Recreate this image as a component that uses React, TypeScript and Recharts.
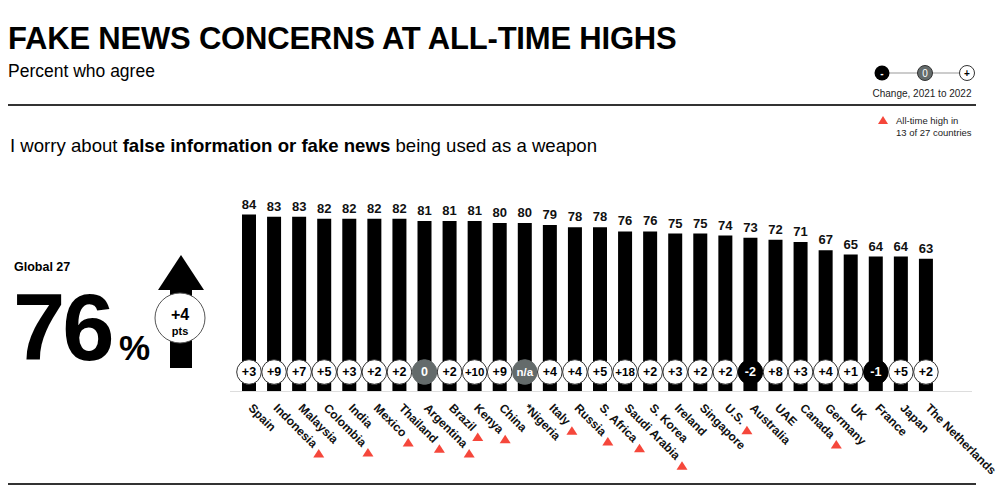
import React from 'react';
import { BarChart, Bar, XAxis, YAxis, LabelList } from 'recharts';

const FONT = '"Liberation Sans", Arial, Helvetica, sans-serif';

const countries = ['Spain', 'Indonesia', 'Malaysia', 'Colombia', 'India', 'Mexico', 'Thailand', 'Argentina', 'Brazil', 'Kenya', 'China', '*Nigeria', 'Italy', 'Russia', 'S. Africa', 'Saudi Arabia', 'S. Korea', 'Ireland', 'Singapore', 'U.S.', 'Australia', 'UAE', 'Canada', 'Germany', 'UK', 'France', 'Japan', 'The Netherlands'];
const agreeValues = [84, 83, 83, 82, 82, 82, 82, 81, 81, 81, 80, 80, 79, 78, 78, 76, 76, 75, 75, 74, 73, 72, 71, 67, 65, 64, 64, 63];
const changeLabels = ['+3', '+9', '+7', '+5', '+3', '+2', '+2', '0', '+2', '+10', '+9', 'n/a', '+4', '+4', '+5', '+18', '+2', '+3', '+2', '+2', '-2', '+8', '+3', '+4', '+1', '-1', '+5', '+2'];
const allTimeHigh = [false, true, false, true, false, true, true, true, true, true, false, false, true, true, true, true, false, false, false, true, false, false, true, false, false, false, false, false];

const data = countries.map((c, i) => ({ country: c, value: agreeValues[i], change: changeLabels[i], high: allTimeHigh[i] }));

const RED = '#f5473b';
const GRAY = '#646b6b';

let ctx: CanvasRenderingContext2D | null = null;
function measure(text: string, font: string) {
  if (!ctx) {
    const c = document.createElement('canvas');
    ctx = c.getContext('2d');
  }
  if (!ctx) return text.length * 7;
  ctx.font = font;
  return ctx.measureText(text).width;
}

const CountryTick = (props: any) => {
  const { x, y, payload, index } = props;
  const name = payload.value as string;
  const d = data[index] || data.find((r) => r.country === name);
  const w = measure(name, `bold 12px ${FONT}`);
  const high = d && d.high;
  const a = w + 8;
  const b = 3;
  const tx = (a - b) / Math.SQRT2;
  const ty = (a + b) / Math.SQRT2;
  return (
    <g transform={`translate(${x + 2},${y + 7})`}>
      <text x={0} y={0} dy={4} transform="rotate(45)" textAnchor="start" fontFamily={FONT} fontWeight="bold" fontSize={12} fill="#111">
        {name}
      </text>
      {high && (
        <polygon points={`${tx},${ty - 4.5} ${tx + 5.5},${ty + 4} ${tx - 5.5},${ty + 4}`} fill={RED} />
      )}
    </g>
  );
};

const ChangeCircle = (props: any) => {
  const { x, y, width, height, value } = props;
  const cx = x + width / 2;
  const cy = y + height - 19;
  const v = String(value);
  let fill = '#fff';
  let stroke = '#333';
  let color = '#000';
  if (v === '0' || v === 'n/a') {
    fill = GRAY;
    stroke = GRAY;
    color = '#fff';
  } else if (v.startsWith('-')) {
    fill = '#000';
    stroke = '#000';
    color = '#fff';
  }
  return (
    <g>
      <circle cx={cx} cy={cy} r={12.3} fill={fill} stroke={stroke} strokeWidth={1} />
      <text x={cx} y={cy} dy={4.3} textAnchor="middle" fontFamily={FONT} fontWeight="bold" fontSize={v.length >= 3 ? 11.5 : 12.5} fill={color}>
        {v}
      </text>
    </g>
  );
};

const ValueLabel = (props: any) => {
  const { x, y, width, value } = props;
  return (
    <text x={x + width / 2} y={y - 6} textAnchor="middle" fontFamily={FONT} fontWeight="bold" fontSize={13} fill="#111">
      {value}
    </text>
  );
};

export default function App() {
  return (
    <div style={{ position: 'fixed', left: 0, top: 0, width: 1000, height: 503, background: '#fff', fontFamily: FONT, overflow: 'hidden' }}>
      <div style={{ position: 'absolute', left: 8, top: 21, fontSize: 31, fontWeight: 'bold', color: '#000', whiteSpace: 'nowrap', letterSpacing: -0.2 }}>
        FAKE NEWS CONCERNS AT ALL-TIME HIGHS
      </div>
      <div style={{ position: 'absolute', left: 8, top: 61, fontSize: 17.5, color: '#000', whiteSpace: 'nowrap' }}>Percent who agree</div>
      <div style={{ position: 'absolute', left: 8, top: 104, width: 968, height: 2, background: '#333' }} />
      <div style={{ position: 'absolute', left: 8, top: 483, width: 968, height: 2, background: '#333' }} />

      <svg style={{ position: 'absolute', left: 860, top: 60 }} width={140} height={80}>
        <line x1={22} y1={13} x2={107} y2={13} stroke="#999" strokeWidth={1} />
        <circle cx={22} cy={13} r={7.5} fill="#000" />
        <text x={22} y={16.5} textAnchor="middle" fontFamily={FONT} fontWeight="bold" fontSize={10} fill="#fff">-</text>
        <circle cx={65} cy={13} r={7.5} fill={GRAY} stroke="#333" strokeWidth={1} />
        <text x={65} y={16.5} textAnchor="middle" fontFamily={FONT} fontSize={10} fill="#fff">0</text>
        <circle cx={107} cy={13} r={7.5} fill="#fff" stroke="#333" strokeWidth={1} />
        <text x={107} y={16.5} textAnchor="middle" fontFamily={FONT} fontWeight="bold" fontSize={10} fill="#000">+</text>
        <text x={62} y={37} textAnchor="middle" fontFamily={FONT} fontSize={10} fill="#222">Change, 2021 to 2022</text>
        <polygon points="23,56 28,64 18,64" fill={RED} />
        <text x={36} y={64} fontFamily={FONT} fontSize={9.5} fill="#222">All-time high in</text>
        <text x={36} y={76} fontFamily={FONT} fontSize={9.5} fill="#222">13 of 27 countries</text>
      </svg>

      <div style={{ position: 'absolute', left: 10, top: 135, fontSize: 18.6, color: '#000', whiteSpace: 'nowrap' }}>
        I worry about <b>false information or fake news</b> being used as a weapon
      </div>

      <svg style={{ position: 'absolute', left: 0, top: 240 }} width={230} height={150}>
        <text x={14} y={31} fontFamily={FONT} fontWeight="bold" fontSize={12.5} fill="#000">Global 27</text>
        <text x={13} y={120} fontFamily={FONT} fontWeight="bold" fontSize={94} fill="#000" letterSpacing={-3}>76</text>
        <text x={119} y={120} fontFamily={FONT} fontWeight="bold" fontSize={35} fill="#000">%</text>
        <rect x={170} y={48} width={22} height={80} fill="#000" />
        <polygon points="181,15 204,50 158,50" fill="#000" />
        <circle cx={180} cy={78} r={25} fill="#fff" stroke="#555" strokeWidth={1} />
        <text x={180} y={80} textAnchor="middle" fontFamily={FONT} fontWeight="bold" fontSize={16} fill="#000">+4</text>
        <text x={180} y={95} textAnchor="middle" fontFamily={FONT} fontWeight="bold" fontSize={11} fill="#000">pts</text>
      </svg>

      <div style={{ position: 'absolute', left: 230, top: 391, width: 742, height: 1, background: '#ddd' }} />

      <div style={{ position: 'absolute', left: 0, top: 0 }}>
        <BarChart width={1000} height={503} data={data} margin={{ top: 181, right: 62, bottom: 0, left: 236 }} barSize={14}>
          <XAxis dataKey="country" interval={0} height={112} axisLine={false} tickLine={false} tick={<CountryTick />} />
          <YAxis hide domain={[0, 100]} width={0} />
          <Bar dataKey="value" fill="#000" isAnimationActive={false}>
            <LabelList dataKey="value" content={<ValueLabel />} />
            <LabelList dataKey="change" content={<ChangeCircle />} />
          </Bar>
        </BarChart>
      </div>
    </div>
  );
}
